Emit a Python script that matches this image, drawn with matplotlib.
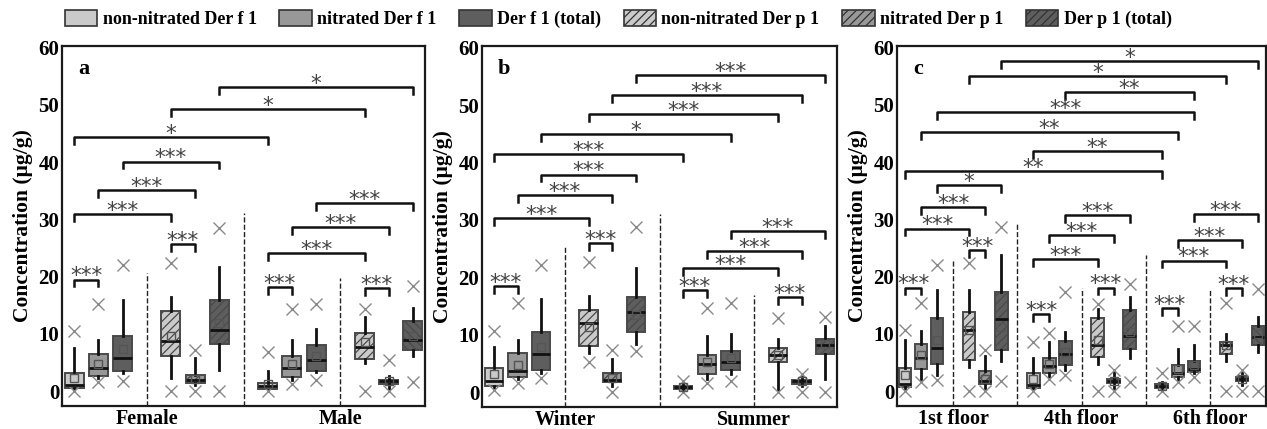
import matplotlib
matplotlib.use('Agg')
import matplotlib.pyplot as plt
from matplotlib.patches import Patch

plt.rcParams['font.family'] = ['Liberation Serif', 'DejaVu Serif']
plt.rcParams['font.weight'] = 'bold'
plt.rcParams['hatch.linewidth'] = 0.9

# order inside every group: non-nitrated Der f 1, nitrated Der f 1, Der f 1 total,
# non-nitrated Der p 1, nitrated Der p 1, Der p 1 total
series_names = ['non-nitrated Der f 1', 'nitrated Der f 1', 'Der f 1 (total)',
                'non-nitrated Der p 1', 'nitrated Der p 1', 'Der p 1 (total)']

# ---- panel a : sex
a_groups = ['Female', 'Male']
a_q1 = [0.5, 2.7, 3.6, 6.1, 1.4, 8.2, 0.4, 2.4, 3.6, 5.6, 1.3, 7.2]
a_med = [1.0, 4.0, 5.8, 8.7, 1.9, 10.6, 0.9, 4.0, 5.4, 7.7, 1.7, 9.0]
a_q3 = [3.1, 6.5, 9.6, 14.0, 2.9, 16.0, 1.4, 6.2, 8.0, 10.1, 2.0, 12.2]
a_lo = [0.1, 2.3, 3.2, 2.3, 1.0, 3.7, 0.2, 2.0, 3.3, 4.9, 0.3, 6.1]
a_hi = [7.6, 9.0, 16.0, 16.4, 5.8, 21.7, 3.5, 8.9, 10.9, 12.9, 2.6, 14.6]
a_mean = [2.3, 4.8, 7.3, 9.6, 2.2, 11.9, 1.3, 4.8, 6.2, 8.6, 1.7, 9.7]
a_min = [0.0, 1.6, 1.7, 0.0, 0.0, 0.0, 0.0, 1.3, 2.0, 0.0, 0.0, 1.6]
a_max = [10.5, 15.3, 22.0, 22.4, 7.1, 28.5, 6.9, 14.4, 15.3, 14.4, 5.4, 18.3]
# brackets: (box i, box j, level, label), boxes counted from 0
a_sig = [(0, 1, 19.5, '***'), (3, 4, 25.7, '***'), (0, 3, 31.0, '***'),
         (1, 4, 35.2, '***'), (2, 5, 40.1, '***'), (0, 6, 44.4, '*'),
         (3, 9, 49.3, '*'), (5, 11, 53.1, '*'),
         (6, 7, 18.2, '***'), (9, 10, 18.0, '***'), (6, 9, 24.1, '***'),
         (7, 10, 28.7, '***'), (8, 11, 32.9, '***')]
a_sep = [20.7, 31.1, 19.7]

# ---- panel b : season
b_groups = ['Winter', 'Summer']
b_q1 = [1.1, 2.7, 3.9, 8.1, 1.7, 10.4, 0.5, 3.1, 3.9, 5.2, 1.4, 6.6]
b_med = [1.9, 3.6, 6.6, 12.1, 2.1, 13.9, 0.8, 4.9, 5.3, 6.5, 1.9, 8.2]
b_q3 = [4.2, 6.8, 10.4, 14.3, 3.3, 16.5, 1.1, 6.5, 7.1, 7.7, 2.1, 9.3]
b_lo = [0.7, 2.3, 3.3, 6.8, 1.1, 8.4, 0.1, 2.3, 3.1, 0.4, 1.0, 2.3]
b_hi = [7.8, 9.0, 16.2, 16.8, 5.8, 21.7, 1.6, 9.7, 10.1, 9.3, 2.6, 11.6]
b_mean = [3.2, 4.8, 7.9, 11.4, 2.4, 13.4, 0.8, 5.3, 5.9, 6.5, 1.9, 8.4]
b_min = [0.4, 1.6, 2.4, 5.3, 0.1, 7.1, 0.0, 1.6, 2.0, 0.0, 0.0, 0.0]
b_max = [10.7, 15.5, 22.1, 22.6, 7.4, 28.8, 1.9, 14.6, 15.5, 12.9, 3.2, 13.0]
b_sig = [(0, 1, 18.4, '***'), (3, 4, 25.9, '***'), (0, 3, 30.3, '***'),
         (1, 4, 34.3, '***'), (2, 5, 37.9, '***'), (0, 6, 41.4, '***'),
         (2, 8, 44.9, '*'), (3, 9, 48.4, '***'), (4, 10, 51.7, '***'),
         (5, 11, 55.3, '***'),
         (6, 7, 17.7, '***'), (9, 10, 16.5, '***'), (6, 9, 21.6, '***'),
         (7, 10, 24.6, '***'), (8, 11, 28.1, '***')]
b_sep = [25.5, 31.1, 16.9]

# ---- panel c : floor
c_groups = ['1st floor', '4th floor', '6th floor']
c_q1 = [0.8, 3.8, 4.8, 5.5, 1.2, 7.1, 0.6, 3.1, 4.5, 5.9, 1.5, 7.4, 0.5, 2.4, 3.4, 6.4, 1.7, 8.1]
c_med = [1.3, 5.8, 7.6, 10.7, 1.8, 12.6, 1.0, 4.4, 6.4, 8.0, 1.8, 9.6, 0.9, 3.2, 3.9, 8.0, 2.1, 9.4]
c_q3 = [4.1, 8.2, 12.8, 13.8, 3.5, 17.3, 3.2, 5.7, 8.7, 12.8, 2.2, 14.1, 1.2, 4.5, 5.2, 8.6, 2.5, 11.3]
c_lo = [0.2, 2.2, 2.8, 4.3, 0.5, 5.3, 0.3, 2.2, 3.7, 4.7, 0.5, 5.7, 0.2, 1.9, 3.1, 5.3, 1.0, 6.8]
c_hi = [9.0, 10.5, 17.6, 17.6, 6.1, 23.8, 5.7, 8.5, 10.3, 14.4, 3.7, 16.5, 1.6, 7.3, 8.0, 9.9, 3.1, 12.9]
c_mean = [2.8, 6.3, 9.0, 10.7, 2.2, 11.2, 2.1, 4.8, 6.8, 8.9, 1.8, 10.3, 0.9, 3.8, 4.6, 8.1, 2.1, 10.0]
c_min = [0.0, 1.6, 1.9, 0.0, 0.0, 1.8, 0.0, 2.2, 2.8, 0.0, 0.0, 1.6, 0.0, 1.6, 2.4, 0.0, 0.0, 0.0]
c_max = [10.6, 15.4, 22.0, 22.3, 7.2, 28.6, 8.5, 10.2, 17.4, 15.2, 3.7, 18.7, 3.1, 11.3, 11.3, 15.4, 3.7, 17.9]
c_sig = [(0, 1, 18.1, '***'), (3, 4, 24.6, '***'), (0, 3, 28.4, '***'),
         (1, 4, 32.1, '***'), (2, 5, 36.0, '*'), (0, 12, 38.4, '**'),
         (6, 12, 41.9, '**'), (1, 13, 45.3, '**'), (2, 14, 48.8, '***'),
         (8, 14, 52.2, '**'), (3, 15, 55.0, '*'), (5, 17, 57.7, '*'),
         (6, 7, 13.5, '***'), (9, 10, 18.1, '***'), (6, 9, 23.0, '***'),
         (7, 10, 27.3, '***'), (8, 11, 30.7, '***'),
         (12, 13, 14.5, '***'), (15, 16, 18.0, '***'), (12, 15, 22.8, '***'),
         (13, 16, 26.4, '***'), (14, 17, 30.9, '***')]
c_sep = [23.0, 29.4, 18.0, 23.7, 17.6]

face = ['#cacaca', '#989898', '#5e5e5e', '#cacaca', '#989898', '#5e5e5e']
hatch = ['', '', '', '////', '////', '////']
edge = '#4a4a4a'


def draw_panel(ax, letter, groups, q1, med, q3, lo, hi, mean, mn, mx, sig, sep, back=()):
    n = len(q1)
    pos = [1 + i + i // 3 for i in range(n)]
    stats = []
    for i in range(n):
        stats.append(dict(med=med[i], q1=q1[i], q3=q3[i], whislo=lo[i], whishi=hi[i],
                          mean=mean[i], fliers=[mn[i], mx[i]]))
    bp = ax.bxp(stats, positions=pos, widths=0.78, patch_artist=True, showmeans=True,
                showcaps=False,
                boxprops=dict(edgecolor=edge, linewidth=1.4),
                medianprops=dict(color='#111111', linewidth=2),
                whiskerprops=dict(color='#111111', linewidth=2),
                meanprops=dict(marker='s', markerfacecolor='none', markeredgecolor='#555555',
                               markersize=6, markeredgewidth=1),
                flierprops=dict(marker='x', markeredgecolor='#8a8a8a', markersize=8,
                                markeredgewidth=1))
    for i, b in enumerate(bp['boxes']):
        k = i % 6
        b.set_facecolor(face[k])
        h = hatch[k]
        if h and i in back:
            h = '\\\\\\\\'
        b.set_hatch(h)
    # dashed separators
    for s, top in enumerate(sep):
        x = 4 * (s + 1)
        ax.plot([x, x], [-2.6, top], ls='--', color='#222222', lw=1)
    # significance brackets
    for i, j, y, lab in sig:
        x1, x2 = pos[i], pos[j]
        ax.plot([x1, x1, x2, x2], [y - 1.2, y, y, y - 1.2], color='#111111', lw=1.8)
        ax.text((x1 + x2) / 2, y - 0.5, lab, ha='center', va='baseline',
                fontsize=15.5, color='#444444', family='DejaVu Sans', fontweight='normal')
    ax.set_xlim(0.5, pos[-1] + 0.5)
    ax.set_ylim(-2.6, 60.3)
    ax.set_yticks(range(0, 61, 10))
    ax.set_xticks([8 * g + 4 for g in range(len(groups))])
    ax.set_xticklabels(groups, fontsize=14.5, fontweight='bold')
    ax.tick_params(axis='x', length=0, pad=2.5)
    ax.tick_params(axis='y', direction='in', length=0, labelsize=15, pad=2)
    for sp in ax.spines.values():
        sp.set_linewidth(1.6)
        sp.set_color('#1a1a1a')
    ax.set_ylabel('Concentration (\u03bcg/g)', fontsize=15.5, fontweight='bold', labelpad=4)
    ax.text(0.045, 0.935, letter, transform=ax.transAxes, fontsize=16, fontweight='bold',
            va='center')


fig = plt.figure(figsize=(12.67, 4.29), dpi=100)
W, H = 1267, 429
ax_a = fig.add_axes([62 / W, 23 / H, 363 / W, 360 / H])
ax_b = fig.add_axes([482 / W, 22 / H, 355 / W, 361 / H])
ax_c = fig.add_axes([897 / W, 23 / H, 369 / W, 360 / H])

draw_panel(ax_a, 'a', a_groups, a_q1, a_med, a_q3, a_lo, a_hi, a_mean, a_min, a_max, a_sig, a_sep,
           back=(11,))
draw_panel(ax_b, 'b', b_groups, b_q1, b_med, b_q3, b_lo, b_hi, b_mean, b_min, b_max, b_sig, b_sep)
draw_panel(ax_c, 'c', c_groups, c_q1, c_med, c_q3, c_lo, c_hi, c_mean, c_min, c_max, c_sig, c_sep,
           back=(17,))

handles = [Patch(facecolor=face[k], edgecolor='#333333', hatch=hatch[k], linewidth=1.2)
           for k in range(6)]
fig.legend(handles, series_names, loc='center', bbox_to_anchor=(0.488, 1 - 19 / H), ncol=6,
           frameon=False, fontsize=13, handlelength=1.8, handleheight=1.0,
           columnspacing=1.25, handletextpad=0.3, borderaxespad=0, borderpad=0)

fig.savefig('out.png', dpi=100)
